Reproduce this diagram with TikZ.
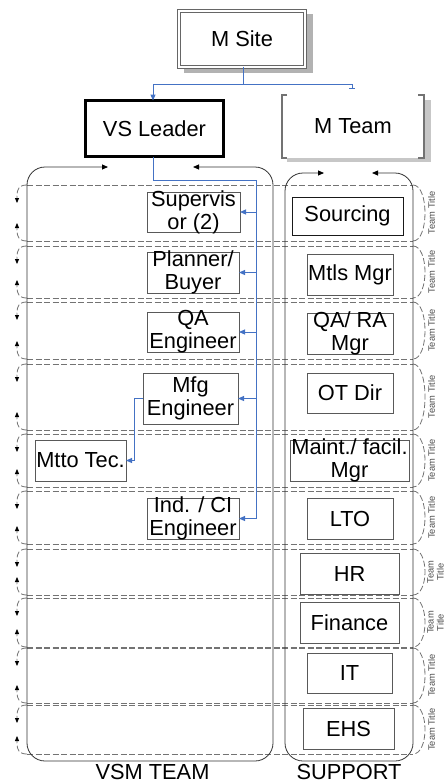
\documentclass[tikz,border=0pt]{standalone}
\usepackage{fontspec}
\setmainfont{Liberation Sans}
\usetikzlibrary{arrows.meta}
\definecolor{bl}{RGB}{68,114,196}
\newcommand\bx[7][black!65]{%
  \node[box, draw=#1, minimum width={#5-#3}, minimum height={#6-#4}] (#2) at ({(#3+#5)/2},{(#4+#6)/2}) {};
  \node[txt] (#2t) at (#2.center) {#7};}
\newcommand\lanebar[4]{%
  \draw[lane] (27,#2) -- (413,#2);
  \draw[lane] (27,#3) -- (413,#3);
  \draw[lane, karr] (27,#2) .. controls (19,#2) and (17,#2+4) .. (17,#2+11) -- (17,#2+18);
  \draw[lane, karr] (27,#3) .. controls (19,#3) and (17,#3-4) .. (17,#3-11) -- (17,#3-18);
  \draw[lane] (413,#2) .. controls (429,#2) and (429,#3) .. (413,#3);
  \node[tt] (#1) at (#4,{(#2+#3)/2}) {Team Title};}
\newcommand\lanebarb[4]{%
  \draw[lane] (27,#2) -- (413,#2);
  \draw[lane] (27,#3) -- (413,#3);
  \draw[lane, karr] (27,#2) .. controls (19,#2) and (17,#2+4) .. (17,#2+11) -- (17,#2+18);
  \draw[lane, karr] (27,#3) .. controls (19,#3) and (17,#3-4) .. (17,#3-11) -- (17,#3-18);
  \draw[lane] (413,#2) .. controls (429,#2) and (429,#3) .. (413,#3);
  \node[tt] (#1) at (#4,{(#2+#3)/2}) {Team\\Title};}
\begin{document}
\begin{tikzpicture}[x=1pt,y=-1pt,
  every node/.style={font=\fontsize{21.8}{23}\selectfont, inner sep=0pt, outer sep=0pt},
  box/.style={line width=0.9pt, fill=white},
  txt/.style={align=center},
  lane/.style={draw=black!55, dash pattern=on 6pt off 2.5pt, line width=0.8pt},
  cont/.style={draw=black!80, line width=0.8pt},
  conn/.style={draw=bl, line width=1pt},
  barr/.style={conn, -{Triangle[length=6pt,width=5pt]}},
  karr/.style={-{Triangle[length=5pt,width=4pt,color=black]}},
  tarr/.style={{Triangle[length=6pt,width=5pt,color=black]}-{Triangle[length=6pt,width=5pt,color=black]}},
  tt/.style={font=\fontsize{9.3}{10}\selectfont, rotate=90, text=black!70, align=center}
]
\useasboundingbox (0,0) rectangle (446,784);

% lanes
\lanebar{tt1}{185}{241}{431.5}
\lanebar{tt2}{246}{298}{431.5}
\lanebar{tt3}{302}{359}{431.5}
\lanebar{tt4}{364}{430}{431.5}
\lanebar{tt5}{434}{487}{431.5}
\lanebar{tt6}{491}{544}{431.5}
\lanebarb{tt7}{549}{595}{435.5}
\lanebarb{tt8}{598}{647}{435.5}
\lanebar{tt9}{648}{703}{431.5}
\lanebar{tt10}{705}{754}{431.5}

% containers
\draw[cont, rounded corners=18pt, tarr] (108,167) -- (27,167) -- (27,761) -- (273,761) -- (273,167) -- (193,167);
\draw[cont, rounded corners=18pt, tarr] (324,173) -- (285,173) -- (285,761) -- (413,761) -- (413,173) -- (372,173);
\node (vsmlbl) at (152.5,772) {VSM TEAM};
\node (suplbl) at (349,772) {SUPPORT};

% M Site
\fill[black!30] (184,14) rectangle (313,73);
\node[draw=black!60, double=white, double distance=1.6pt, line width=1pt, fill=white,
      minimum width=126, minimum height=56] (ms) at (242,39) {};
\node (mst) at (ms.center) {M Site};

% VS Leader
\node[draw=black, line width=3pt, fill=white, minimum width=138, minimum height=56] (vsl) at (154.5,128.5) {};
\node (vslt) at (vsl.center) {VS Leader};

% M Team
\fill[black!22] (287,100) rectangle (431,162);
\fill[white] (282,95) rectangle (424,158);
\node[minimum width=142, minimum height=63] (mt) at (353,126.5) {};
\node (mtt) at (mt.center) {M Team};
\draw[black!55, line width=2pt] (287,95) -- (282,95) -- (282,158) -- (287,158);
\draw[black!55, line width=2pt] (418,95) -- (424,95) -- (424,158) -- (418,158);

% boxes
\bx{sup}{147}{192}{240}{232}{Supervis\\or (2)}
\bx{plan}{147}{252}{239}{293}{Planner/\\Buyer}
\bx{qa}{147}{312}{239}{352}{QA\\Engineer}
\bx{mfg}{143}{373}{238}{424}{Mfg\\Engineer}
\bx{mtto}{35}{440}{126}{481}{Mtto Tec.}
\bx{ind}{147}{498}{239}{539}{Ind. / CI\\Engineer}
\bx[black!90]{src}{292}{197}{403}{235}{Sourcing}
\bx{mtls}{307}{254}{393}{295}{Mtls Mgr}
\bx{qara}{307}{313}{393}{354}{QA/ RA\\Mgr}
\bx{ot}{307}{373}{393}{413}{OT Dir}
\bx{maint}{290}{440}{409}{481}{Maint./ facil.\\Mgr}
\bx{lto}{307}{498}{393}{539}{LTO}
\bx{hr}{300}{553}{399}{594}{HR}
\bx{fin}{300}{602}{399}{643}{Finance}
\bx{it}{307}{653}{392}{693}{IT}
\bx{ehs}{303}{708}{394}{749}{EHS}

% blue connectors
\coordinate (m1) at (243,84);
\coordinate (mtend) at (352,89);
\coordinate (j1) at (153,180);
\coordinate (j2) at (256,180);
\draw[barr] (ms.south -| m1) -- (m1) -| (vsl.north -| j1);
\draw[conn, -{Bar[width=6pt]}] (m1) -| (mtend);
\draw[conn] (vsl.south -| j1) -- (j1) -- (j2);
\draw[barr] (j2) |- (sup.east);
\draw[barr] (j2) |- (plan.east);
\draw[barr] (j2) |- (qa.east);
\draw[barr] (j2) |- (mfg.east);
\draw[barr] (j2) |- (ind.east);
\draw[barr] (mfg.west) -- ++(-9,0) |- (mtto.east);
\end{tikzpicture}
\end{document}
